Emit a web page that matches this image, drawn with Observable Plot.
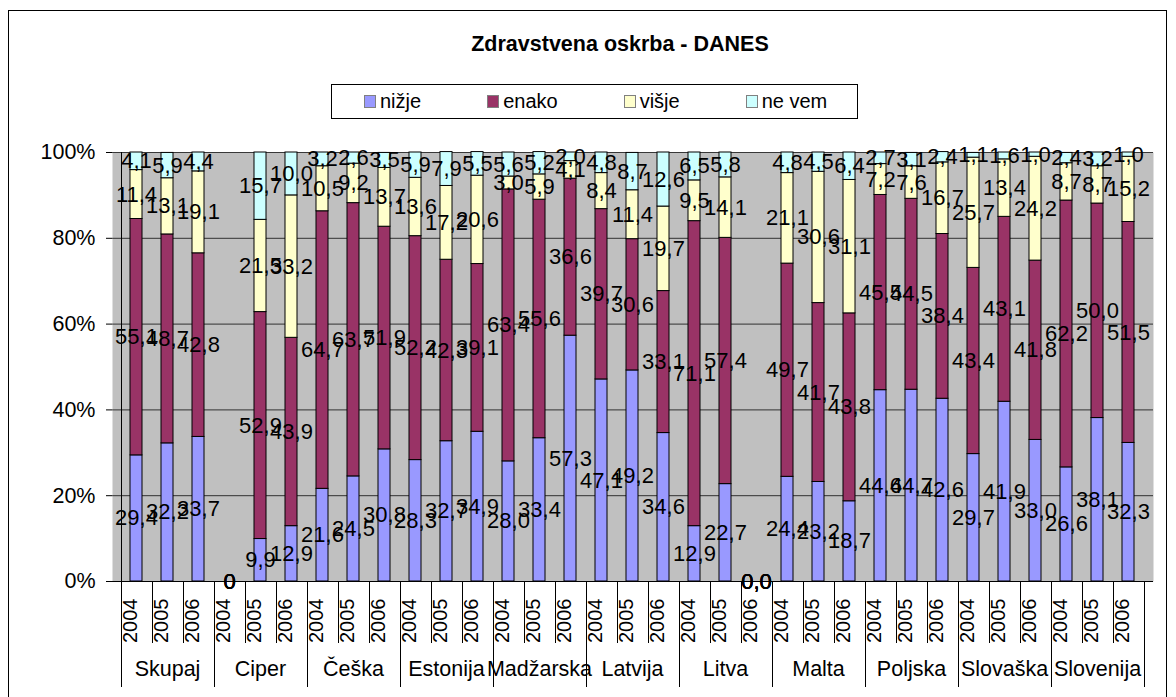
<!DOCTYPE html>
<html>
<head>
<meta charset="utf-8">
<script src="https://cdn.jsdelivr.net/npm/d3@7"></script>
<script src="https://cdn.jsdelivr.net/npm/@observablehq/plot@0.6"></script>
<style>
  body { margin: 0; background: #fff; font-family: "Liberation Sans", Arial, sans-serif; }
  #frame { position: absolute; left: 8px; top: 10px; width: 1159px; height: 700px; border: 1px solid #000; box-sizing: border-box; }
  #title { position: absolute; left: 0; width: 1240px; top: 31px; text-align: center; font-weight: bold; font-size: 21.5px; line-height: 26px; color: #000; }
  #legend { position: absolute; left: 331px; top: 84px; width: 527px; height: 35px; border: 1px solid #000; box-sizing: border-box;
            display: flex; align-items: center; padding-left: 32px; gap: 66px; font-size: 20px; color: #000; }
  .item { display: flex; align-items: center; }
  .sw { width: 10px; height: 11px; border: 1px solid #808080; margin-right: 4px; }
  #chart { position: absolute; left: 0; top: 130px; }
</style>
</head>
<body>
<div id="frame"></div>
<div id="title">Zdravstvena oskrba - DANES</div>
<div id="legend"></div>
<div id="chart"></div>
<script>
const countries = ["Skupaj", "Ciper", "Češka", "Estonija", "Madžarska", "Latvija", "Litva", "Malta", "Poljska", "Slovaška", "Slovenija"];
const years = ["2004", "2005", "2006"];
const series = ["nižje", "enako", "višje", "ne vem"];
const colors = ["#9999FF", "#993366", "#FFFFCC", "#CCFFFF"];

// one value per country-year bar, in the order of countries × years
const nizje = [29.4, 32.2, 33.7,  0, 9.9, 12.9,  21.6, 24.5, 30.8,  28.3, 32.7, 34.9,  28.0, 33.4, 57.3,  47.1, 49.2, 34.6,  12.9, 22.7, 0.0,  24.4, 23.2, 18.7,  44.6, 44.7, 42.6,  29.7, 41.9, 33.0,  26.6, 38.1, 32.3];
const enako = [55.1, 48.7, 42.8,  0, 52.9, 43.9,  64.7, 63.7, 51.9,  52.2, 42.3, 39.1,  63.4, 55.6, 36.6,  39.7, 30.6, 33.1,  71.1, 57.4, 0.0,  49.7, 41.7, 43.8,  45.5, 44.5, 38.4,  43.4, 43.1, 41.8,  62.2, 50.0, 51.5];
const visje = [11.4, 13.1, 19.1,  0, 21.5, 33.2,  10.5, 9.2, 13.7,  13.6, 17.2, 20.6,  3.0, 5.9, 4.1,  8.4, 11.4, 19.7,  9.5, 14.1, 0.0,  21.1, 30.6, 31.1,  7.2, 7.6, 16.7,  25.7, 13.4, 24.2,  8.7, 8.7, 15.2];
const neVem = [4.1, 5.9, 4.4,  0, 15.7, 10.0,  3.2, 2.6, 3.5,  5.9, 7.9, 5.5,  5.6, 5.2, 2.0,  4.8, 8.7, 12.6,  6.5, 5.8, 0.0,  4.8, 4.5, 6.4,  2.7, 3.1, 2.4,  1.1, 1.6, 1.0,  2.4, 3.2, 1.0];
// bars whose labels are shown without decimals
const integerLabels = ["Ciper|2004"];
const yTicks = [0, 20, 40, 60, 80, 100];

const keys = countries.flatMap(c => years.map(y => c + "|" + y));
const seriesValues = [nizje, enako, visje, neVem];
const rows = [];
keys.forEach((k, i) => {
  series.forEach((s, si) => rows.push({key: k, country: k.split("|")[0], year: k.split("|")[1], series: s, value: seriesValues[si][i]}));
});

const fmt = d => integerLabels.includes(d.key) ? d3.format("d")(d.value) : d3.format(".1f")(d.value).replace(".", ",");

// legend
const legend = document.getElementById("legend");
series.forEach((s, i) => {
  const item = document.createElement("div");
  item.className = "item";
  const sw = document.createElement("div");
  sw.className = "sw";
  sw.style.background = colors[i];
  const t = document.createElement("span");
  t.textContent = s;
  item.appendChild(sw);
  item.appendChild(t);
  legend.appendChild(item);
});

// category separators & left axis line, drawn from the band scale
const separators = (index, scales) => {
  const x = scales.x, y = scales.y;
  const bw = typeof x.bandwidth === "function" ? x.bandwidth() : x.bandwidth;
  const step = x(keys[1]) - x(keys[0]);
  const y0 = y(0);
  const g = d3.create("svg:g").attr("stroke", "#000").attr("stroke-width", 1);
  for (let i = 0; i <= keys.length; i++) {
    const xx = Math.round(x(keys[0]) + bw / 2 - step / 2 + i * step) + 0.5;
    const long = i % years.length === 0;
    g.append("line")
      .attr("x1", xx).attr("x2", xx)
      .attr("y1", i === 0 ? y(100) : y0)
      .attr("y2", y0 + (long ? 106 : 62));
  }
  return g.node();
};

const chart = Plot.plot({
  width: 1176,
  height: 567,
  marginTop: 22,
  marginBottom: 116,
  marginLeft: 112,
  marginRight: 23,
  style: {fontFamily: '"Liberation Sans", Arial, sans-serif', fontSize: "21px", color: "#000", background: "transparent", overflow: "visible"},
  x: {type: "band", domain: keys, paddingInner: 0.6, paddingOuter: 0.3, axis: null},
  y: {domain: [0, 100], axis: null},
  color: {domain: series, range: colors},
  marks: [
    Plot.frame({fill: "#C0C0C0", stroke: null}),
    Plot.gridY({ticks: yTicks, stroke: "#000", strokeOpacity: 0.75}),
    Plot.barY(rows, {x: "key", y: "value", z: "series", fill: "series", stroke: "#000", strokeWidth: 1, order: series}),
    Plot.ruleY([0], {stroke: "#000"}),
    Plot.text(rows, Plot.stackY({x: "key", y: "value", z: "series", order: series, text: fmt, fontSize: 22, fill: "#000"})),
    Plot.axisY({ticks: yTicks, tickFormat: d => d + "%", tickSize: 6, tickPadding: 11, fontSize: 21.5, anchor: "left", stroke: "#000", label: null}),
    Plot.text(keys, {x: d => d, text: d => d.split("|")[1], frameAnchor: "bottom", rotate: -90, textAnchor: "end", dy: 17, fontSize: 20, fill: "#000"}),
    Plot.text(countries, {x: c => c + "|" + years[1], text: c => c, frameAnchor: "bottom", dy: 94, fontSize: 21.5, fill: "#000"}),
    separators
  ]
});
document.getElementById("chart").appendChild(chart);
</script>
</body>
</html>
